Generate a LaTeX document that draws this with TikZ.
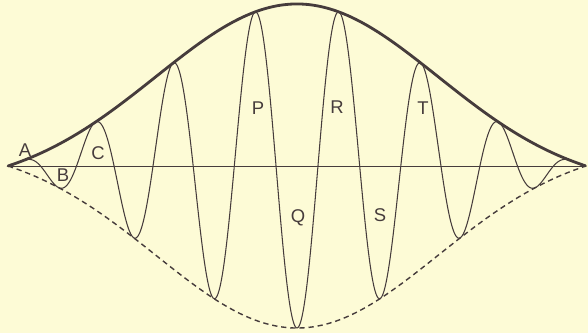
\documentclass[tikz,border=0pt]{standalone}
\usepackage{fontspec}
\setmainfont{Liberation Sans}
\definecolor{paper}{RGB}{253,251,214}
\definecolor{ink}{RGB}{70,60,60}

\begin{document}
\begin{tikzpicture}[
  x=0.02cm, y=0.02cm,
  upenv/.style={ink, line width=1.6pt, line cap=round},
  lowenv/.style={ink, line width=0.8pt, dash pattern=on 3pt off 2.2pt},
  wave/.style={ink, line width=0.6pt},
  axisln/.style={ink, line width=0.55pt},
  lbl/.style={font=\fontsize{10.5}{12}\selectfont, text=ink, inner sep=0pt},
  declare function={
    envl(\u)=\peak*(exp(-\gs*\u*\u)-\ezero)/(1-\ezero);
    phs(\u)=\kw*\u*(1+\chirp*\u*\u);
  },
]

% ── Parameters (unit = 1 px, origin at centre of axis) ───────────────────────
\def\halfw{289}       % half-length of the train
\def\peak{162}        % envelope height at the centre
\def\gs{2.1}          % Gaussian steepness of envelope
\pgfmathsetmacro{\ezero}{exp(-\gs)}
\def\kw{1240}         % carrier phase at the ends (deg)
\def\chirp{0.08}      % slight crowding of waves towards the ends

% ── Paper ────────────────────────────────────────────────────────────────────
\fill[paper] (-297,-167) rectangle (291,166);
\useasboundingbox (-297,-167) rectangle (291,166);

% ── Lower envelope (dashed) ──────────────────────────────────────────────────
\draw[lowenv] plot[variable=\u, domain=-1:1, samples=200]
  ({\halfw*\u}, {-envl(\u)});

% ── Wave train ───────────────────────────────────────────────────────────────
\draw[wave] plot[variable=\u, domain=-1:1, samples=700]
  ({\halfw*\u}, {-envl(\u)*cos(phs(\u))});

% ── Axis ─────────────────────────────────────────────────────────────────────
\draw[axisln] (-\halfw,0) -- (\halfw,0);

% ── Upper envelope (thick) ───────────────────────────────────────────────────
\draw[upenv] plot[variable=\u, domain=-1:1, samples=200]
  ({\halfw*\u}, {envl(\u)});

% ── Letters ──────────────────────────────────────────────────────────────────
\node[lbl] (lblA) at (-272, 16) {A};
\node[lbl] (lblB) at (-234, -9) {B};
\node[lbl] (lblC) at (-199, 13) {C};
\node[lbl] (lblP) at (-39, 58)  {P};
\node[lbl] (lblQ) at (1, -52)   {Q};
\node[lbl] (lblR) at (40, 59)   {R};
\node[lbl] (lblS) at (83, -49)  {S};
\node[lbl] (lblT) at (126, 58)  {T};

\end{tikzpicture}
\end{document}
